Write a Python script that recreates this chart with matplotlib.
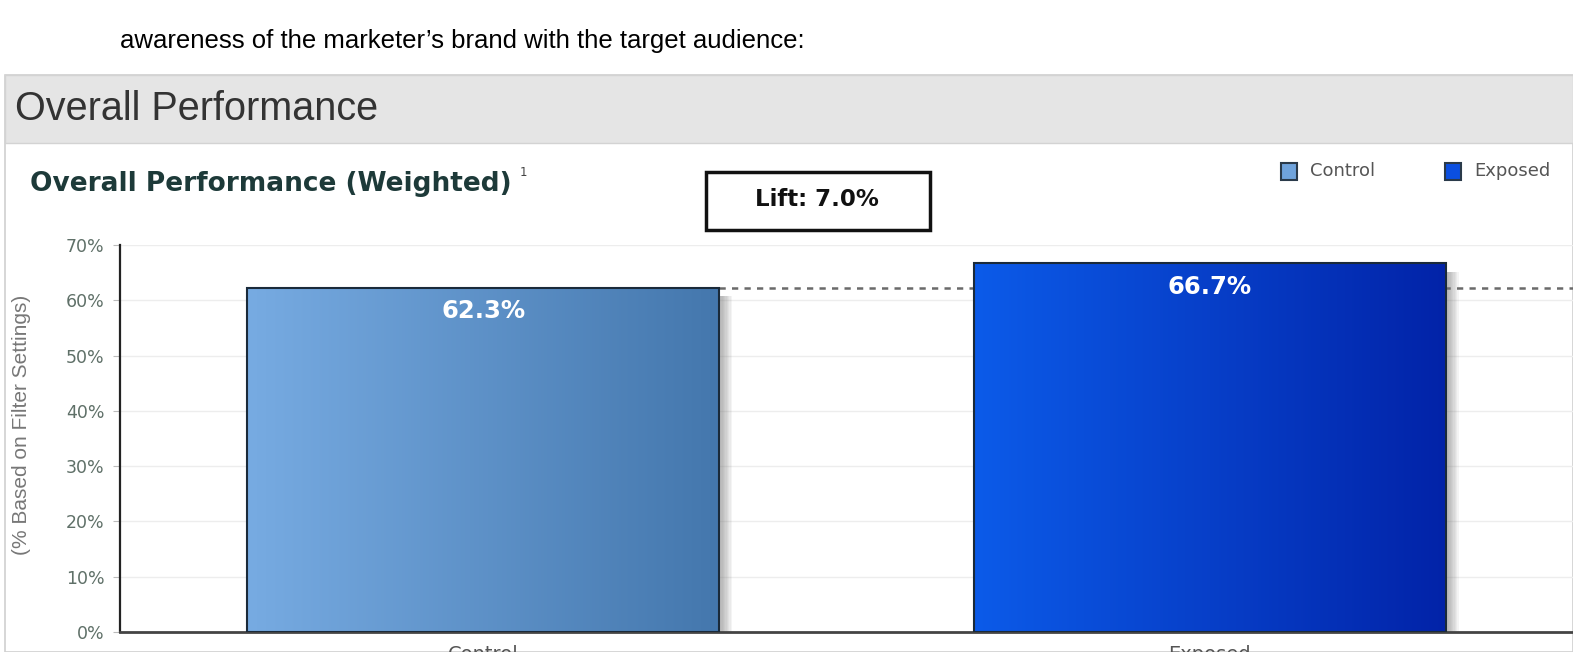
import matplotlib
matplotlib.use("Agg")
import matplotlib.pyplot as plt
import numpy as np
from matplotlib.patches import Rectangle
from matplotlib.colors import LinearSegmentedColormap

# ---- data ----
categories = ["Control", "Exposed"]
values = [62.3, 66.7]
value_labels = ["62.3%", "66.7%"]
lift_text = "Lift: 7.0%"
yticks = [0, 10, 20, 30, 40, 50, 60, 70]
ytick_labels = ["0%", "10%", "20%", "30%", "40%", "50%", "60%", "70%"]
gradients = [("#77abe2", "#4477ad"), ("#0c5be9", "#0223a8")]
legend_colors = ["#6fa3dc", "#0b4fe0"]

W, H = 1573, 652
fig = plt.figure(figsize=(W / 100, H / 100), dpi=100)
fig.patch.set_facecolor("white")


def fx(x):
    return x / W


def fy(y):
    return 1 - y / H


# top sentence (partially visible)
fig.text(fx(120), fy(41), "awareness of the marketer\u2019s brand with the target audience:",
         family=["Liberation Sans Narrow", "Liberation Sans", "DejaVu Sans"],
         fontsize=18.5, color="black", va="center", ha="left")

# panel
fig.add_artist(Rectangle((fx(5), fy(652)), fx(W - 5), (652 - 75) / H,
                         transform=fig.transFigure, facecolor="white",
                         edgecolor="#d0d0d0", lw=1.2, zorder=0))
# header band
fig.add_artist(Rectangle((fx(5), fy(143)), fx(W - 5), (143 - 75) / H,
                         transform=fig.transFigure, facecolor="#e5e5e5",
                         edgecolor="#d3d3d3", lw=1.0, zorder=1))
fig.text(fx(15), fy(109), "Overall Performance", family=["Liberation Sans", "DejaVu Sans"],
         fontsize=28.5, color="#333333", va="center", ha="left")

# subtitle
fig.text(fx(30), fy(184), "Overall Performance (Weighted)", family="DejaVu Sans",
         fontweight="bold", fontsize=19, color="#1d3a39", va="center", ha="left")
fig.text(fx(520), fy(172), "1", family="DejaVu Sans", fontsize=8.5, color="#444444",
         va="center", ha="left")

# lift box
fig.text(fx(817), fy(200), lift_text, family="DejaVu Sans", fontweight="bold",
         fontsize=16.5, color="#111111", va="center", ha="center")
fig.add_artist(Rectangle((fx(706), fy(230)), fx(224), 58 / H, transform=fig.transFigure,
                         facecolor="none", edgecolor="#111111", lw=2.5, zorder=3))

# legend
legend_x = [1281, 1445]
for cat, col, lx in zip(categories, legend_colors, legend_x):
    fig.add_artist(Rectangle((fx(lx), fy(180)), fx(16), 17 / H, transform=fig.transFigure,
                             facecolor=col, edgecolor="#2a3a4a", lw=1.5, zorder=3))
    fig.text(fx(lx + 29), fy(171), cat, family="DejaVu Sans", fontsize=13,
             color="#555555", va="center", ha="left")

# axes
ax = fig.add_axes([fx(120), fy(632), 1 - fx(120), (632 - 245) / H])
ax.set_facecolor("none")
ax.set_xlim(-0.5, 1.5)
ax.set_ylim(0, 70)
ax.set_yticks(yticks)
ax.set_yticklabels(ytick_labels, family="DejaVu Sans", fontsize=12.5, color="#5f7068")
ax.tick_params(axis="y", length=5, color="#bbbbbb", pad=6)
ax.set_xticks([])
for s in ["top", "right"]:
    ax.spines[s].set_visible(False)
ax.spines["left"].set_color("#222222")
ax.spines["left"].set_linewidth(1.6)
ax.spines["bottom"].set_color("#444444")
ax.spines["bottom"].set_linewidth(2.0)
for t in yticks[1:]:
    ax.axhline(t, color="#ededed", lw=1.0, zorder=0)

ax.set_ylabel("(% Based on Filter Settings)", family=["Liberation Sans", "DejaVu Sans"],
              fontsize=15, color="#777777")
ax.yaxis.set_label_coords(-0.061, 0.535)

width = 0.65
xpos = np.arange(len(categories))

# dashed reference line at control level
ax.plot([xpos[0] + width / 2, 1.5], [values[0], values[0]], ls=(0, (2.5, 2.5)),
        color="#6a6a6a", lw=1.8, zorder=1, clip_on=False)

bars = ax.bar(xpos, values, width=width, facecolor="none", edgecolor="#1a2a3a",
              lw=1.5, zorder=4)
for i, (b, (c0, c1)) in enumerate(zip(bars, gradients)):
    x0 = b.get_x()
    x1 = x0 + b.get_width()
    h = b.get_height()
    # soft shadow on right side
    for k in range(8):
        ax.add_patch(Rectangle((x1, 0), 0.0018 * (k + 1) + 0.003, h - 1.5,
                               facecolor="#7a7a7a", alpha=0.08, lw=0, zorder=2))
    cmap = LinearSegmentedColormap.from_list(f"g{i}", [c0, c1])
    grad = np.linspace(0, 1, 256).reshape(1, -1)
    ax.imshow(grad, extent=[x0, x1, 0, h], aspect="auto", cmap=cmap, zorder=3,
              interpolation="bilinear")
    ax.text(xpos[i], h - 2.1, value_labels[i], ha="center", va="top", color="white",
            family="DejaVu Sans", fontweight="bold", fontsize=17.5, zorder=5)
    ax.text(xpos[i], -2.3, categories[i], ha="center", va="top", color="#555555",
            family="DejaVu Sans", fontsize=14, zorder=5, clip_on=False)

ax.set_xlim(-0.5, 1.5)
ax.set_ylim(0, 70)

fig.savefig("out.png", dpi=100)
